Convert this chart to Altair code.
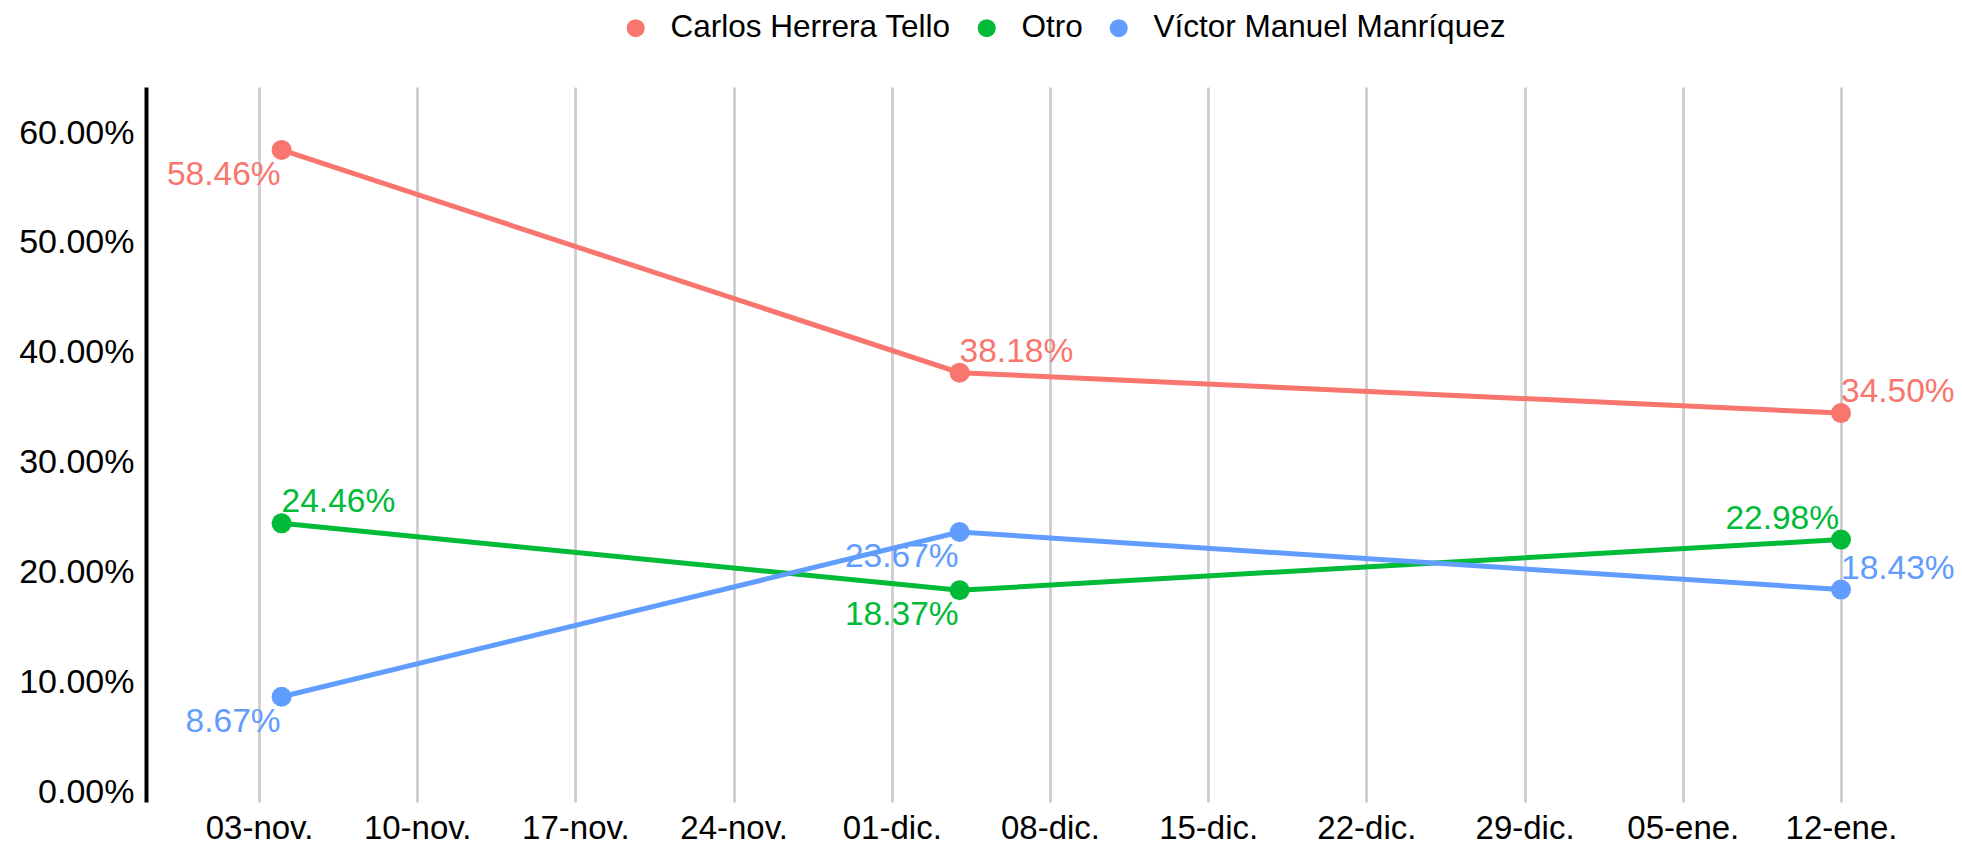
import altair as alt
import pandas as pd

# ---- data ----
series = ["Carlos Herrera Tello", "Otro", "Víctor Manuel Manríquez"]
colors = ["#F8766D", "#00BA38", "#619CFF"]
dates = ["2023-11-04T00:00:00", "2023-12-04T00:00:00", "2024-01-12T00:00:00"]
carlos = [0.5846, 0.3818, 0.3450]
otro = [0.2446, 0.1837, 0.2298]
victor = [0.0867, 0.2367, 0.1843]

tick_dates = ["2023-11-03", "2023-11-10", "2023-11-17", "2023-11-24", "2023-12-01",
              "2023-12-08", "2023-12-15", "2023-12-22", "2023-12-29", "2024-01-05",
              "2024-01-12"]
tick_labels = ["03-nov.", "10-nov.", "17-nov.", "24-nov.", "01-dic.", "08-dic.",
               "15-dic.", "22-dic.", "29-dic.", "05-ene.", "12-ene."]
y_ticks = [0.0, 0.1, 0.2, 0.3, 0.4, 0.5, 0.6]

# label placement (style, kept apart from the values)
label_place = {
    "Carlos Herrera Tello": ["below_right", "above_left", "above_left"],
    "Otro": ["above_left", "below_right", "above_right"],
    "Víctor Manuel Manríquez": ["below_right", "below_right", "above_left"],
}

rows = []
for name, vals in zip(series, [carlos, otro, victor]):
    for i, (d, v) in enumerate(zip(dates, vals)):
        rows.append({"serie": name, "fecha": d, "valor": v, "place": label_place[name][i]})
df = pd.DataFrame(rows)


def dt(s):
    y, m, d = s.split("-")
    return alt.DateTime(year=int(y), month=int(m), date=int(d))


label_expr = "".join(
    f"timeFormat(datum.value, '%Y-%m-%d') == '{d}' ? '{l}' : "
    for d, l in zip(tick_dates, tick_labels)
) + "''"

FONT = "Liberation Sans"

x_enc = alt.X(
    "fecha:T",
    scale=alt.Scale(domain=[alt.DateTime(year=2023, month=10, date=29),
                            alt.DateTime(year=2024, month=1, date=17)]),
    axis=alt.Axis(values=[dt(s) for s in tick_dates], labelExpr=label_expr, title=None,
                  grid=True, gridColor="#cccccc", gridWidth=2.7, domain=False,
                  ticks=False, tickSize=0, labelFontSize=33, labelPadding=10,
                  labelColor="#000000", labelFont=FONT, labelFlush=False,
                  labelOverlap=False),
)
y_enc = alt.Y(
    "valor:Q",
    scale=alt.Scale(domain=[-0.0091, 0.6419], nice=False, zero=False),
    axis=alt.Axis(values=y_ticks, format=".2%", title=None, grid=False, ticks=False,
                  tickSize=0, domainColor="#000000", domainWidth=4, labelFontSize=34,
                  labelPadding=12, labelColor="#000000", labelFont=FONT,
                  labelOverlap=False, labelFlush=False),
)
cscale = alt.Scale(domain=series, range=colors)

base = alt.Chart(df)

points = base.mark_circle(size=400, opacity=1).encode(
    x=x_enc, y=y_enc,
    color=alt.Color(
        "serie:N", scale=cscale,
        legend=alt.Legend(title=None, orient="none", legendX=474, legendY=-75,
                          direction="horizontal", labelFontSize=31.5, labelFont=FONT,
                          labelColor="#000000", labelLimit=800, symbolType="circle",
                          symbolSize=324, symbolStrokeWidth=0, symbolOpacity=1,
                          labelOffset=19, columnPadding=20, padding=0),
    ),
)
lines = base.mark_line(strokeWidth=5).encode(
    x=x_enc, y=y_enc, color=alt.Color("serie:N", scale=cscale, legend=None)
)

placements = {
    "above_left": dict(align="left", dx=0, dy=-11),
    "above_right": dict(align="right", dx=-2, dy=-11),
    "below_right": dict(align="right", dx=-1, dy=35),
}
texts = []
for key, st in placements.items():
    texts.append(
        base.transform_filter(alt.datum.place == key)
        .mark_text(baseline="alphabetic", fontSize=33.5, font=FONT, **st)
        .encode(x=x_enc, y=y_enc, text=alt.Text("valor:Q", format=".2%"),
                color=alt.Color("serie:N", scale=cscale, legend=None))
    )

chart = (
    alt.layer(points, lines, *texts)
    .properties(width=1808, height=715,
                autosize=alt.AutoSizeParams(type="none"),
                padding={"left": 138, "top": 79, "right": 0, "bottom": 42})
    .configure(font=FONT)
    .configure_view(strokeWidth=0, stroke="transparent")
)

chart.save("out.html", embed_options={"renderer": "svg", "actions": False})
